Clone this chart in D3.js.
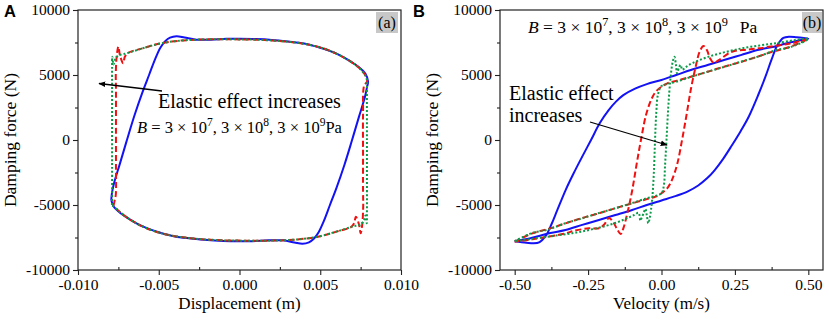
<!DOCTYPE html>
<html>
<head>
<meta charset="utf-8">
<script src="https://cdn.jsdelivr.net/npm/d3@7"></script>
<style>
  body { margin: 0; background: #fff; }
  svg text { font-family: "Liberation Serif", "Times New Roman", serif; }
</style>
</head>
<body>
<svg id="chart" width="829" height="324"></svg>
<script>
// force ticks (shared by both panels)
const forceTicks = [-10000, -5000, 0, 5000, 10000];
const forceMinor = [-7500, -2500, 2500, 7500];
const dispTicks = [-0.010, -0.005, 0.000, 0.005, 0.010];
const dispMinor = [-0.0075, -0.0025, 0.0025, 0.0075];
const velTicks = [-0.50, -0.25, 0.00, 0.25, 0.50];
const velMinor = [-0.375, -0.125, 0.125, 0.375];

// panel (a): displacement (m) vs damping force (N)
const dispBlue = [[-0.00794,-4620],[-0.0079,-4100],[-0.00777,-3330],[-0.0074,-1800],[-0.00697,0],[-0.0065,1900],[-0.006,3700],[-0.0056,5000],[-0.0052,6300],[-0.0049,7100],[-0.0046,7600],[-0.0043,7870],[-0.0039,7980],[-0.0034,7880],[-0.0027,7720],[-0.0018,7720],[-0.0008,7780],[0,7780],[0.001,7760],[0.002,7700],[0.003,7580],[0.004,7430],[0.005,7100],[0.006,6650],[0.0068,6100],[0.0074,5600],[0.0078,5100],[0.00796,4490],[0.0079,4100],[0.00777,3330],[0.0074,1800],[0.00697,0],[0.0065,-1900],[0.006,-3700],[0.0056,-5000],[0.0052,-6300],[0.0049,-7100],[0.0046,-7600],[0.0043,-7870],[0.0039,-7980],[0.0034,-7880],[0.0027,-7720],[0.0018,-7720],[0.0008,-7780],[0,-7780],[-0.001,-7760],[-0.002,-7700],[-0.003,-7580],[-0.004,-7430],[-0.005,-7100],[-0.006,-6650],[-0.0068,-6100],[-0.0074,-5600],[-0.0078,-5100],[-0.00794,-4620]];
const dispRed = [[-0.0078,-5050],[-0.00772,-4600],[-0.00766,-4200],[-0.00765,-2000],[-0.00765,1000],[-0.00765,4000],[-0.00766,5100],[-0.0076,6500],[-0.0075,7180],[-0.0074,6500],[-0.0072,5900],[-0.0071,6400],[-0.0069,6700],[-0.006,7050],[-0.005,7400],[-0.004,7600],[-0.003,7700],[-0.002,7740],[-0.001,7750],[0,7740],[0.001,7720],[0.002,7660],[0.003,7560],[0.004,7400],[0.005,7120],[0.006,6650],[0.0068,6100],[0.0074,5550],[0.0078,4950],[0.0079,4500],[0.00772,4200],[0.00765,2000],[0.00765,-1000],[0.00765,-4000],[0.00766,-5100],[0.0076,-6500],[0.0075,-7180],[0.0074,-6500],[0.0072,-5900],[0.0071,-6400],[0.0069,-6700],[0.006,-7050],[0.005,-7400],[0.004,-7600],[0.003,-7700],[0.002,-7740],[0.001,-7750],[0,-7740],[-0.001,-7720],[-0.002,-7660],[-0.003,-7560],[-0.004,-7400],[-0.005,-7120],[-0.006,-6650],[-0.0068,-6100],[-0.0074,-5550],[-0.0078,-5050]];
const dispGreen = [[-0.0079,-5000],[-0.00789,-4600],[-0.00789,-2000],[-0.00789,1000],[-0.00789,4000],[-0.00789,5600],[-0.00788,6400],[-0.0078,5800],[-0.0077,6200],[-0.0075,6500],[-0.0072,6600],[-0.0069,6700],[-0.006,7050],[-0.005,7400],[-0.004,7600],[-0.003,7700],[-0.002,7740],[-0.001,7750],[0,7740],[0.001,7720],[0.002,7660],[0.003,7560],[0.004,7400],[0.005,7120],[0.006,6650],[0.0068,6100],[0.0074,5550],[0.0078,4950],[0.0079,4500],[0.00789,4000],[0.00789,1000],[0.00789,-2000],[0.00789,-5600],[0.00788,-6400],[0.0078,-5800],[0.0077,-6200],[0.0075,-6500],[0.0072,-6600],[0.0069,-6700],[0.006,-7050],[0.005,-7400],[0.004,-7600],[0.003,-7700],[0.002,-7740],[0.001,-7750],[0,-7740],[-0.001,-7720],[-0.002,-7660],[-0.003,-7560],[-0.004,-7400],[-0.005,-7120],[-0.006,-6650],[-0.0068,-6100],[-0.0074,-5550],[-0.0079,-5000]];

// panel (b): velocity (m/s) vs damping force (N)
const velBlue = [[-0.5,-7780],[-0.463,-7640],[-0.42,-7400],[-0.383,-7180],[-0.327,-6920],[-0.27,-6530],[-0.213,-6150],[-0.157,-5770],[-0.1,-5380],[-0.05,-5000],[0,-4650],[0.05,-4300],[0.09,-3950],[0.125,-3500],[0.155,-2950],[0.18,-2350],[0.21,-1450],[0.24,-400],[0.27,700],[0.297,1790],[0.33,3500],[0.354,4870],[0.375,6200],[0.395,7300],[0.415,7850],[0.435,7950],[0.46,7900],[0.5,7780],[0.463,7640],[0.42,7400],[0.383,7180],[0.327,6920],[0.27,6530],[0.213,6150],[0.157,5770],[0.1,5380],[0.05,5000],[0,4620],[-0.05,4300],[-0.09,3950],[-0.13,3450],[-0.155,2950],[-0.18,2300],[-0.21,1300],[-0.24,0],[-0.27,-1280],[-0.3,-2600],[-0.3265,-3850],[-0.355,-5400],[-0.375,-6500],[-0.395,-7400],[-0.415,-7850],[-0.435,-7950],[-0.46,-7900],[-0.5,-7780]];
const velRed = [[-0.5,-7820],[-0.44,-7180],[-0.38,-6800],[-0.327,-6410],[-0.27,-6000],[-0.213,-5640],[-0.157,-5250],[-0.1,-4870],[-0.05,-4550],[-0.02,-4360],[0,-4100],[0.02,-3700],[0.035,-3100],[0.053,-1900],[0.07,0],[0.085,1900],[0.1,3900],[0.115,5500],[0.13,6800],[0.143,7230],[0.155,6900],[0.165,6300],[0.178,5950],[0.195,6150],[0.24,6790],[0.29,6950],[0.331,7050],[0.39,7250],[0.444,7440],[0.5,7800],[0.44,7180],[0.38,6800],[0.327,6410],[0.27,6000],[0.213,5640],[0.157,5250],[0.1,4870],[0.05,4550],[0.02,4360],[0,4100],[-0.02,3700],[-0.035,3100],[-0.053,1900],[-0.07,0],[-0.085,-1900],[-0.1,-3900],[-0.115,-5500],[-0.13,-6800],[-0.139,-7230],[-0.15,-6900],[-0.165,-6300],[-0.179,-6000],[-0.195,-6500],[-0.213,-6790],[-0.247,-6790],[-0.3,-7000],[-0.327,-7180],[-0.44,-7640],[-0.5,-7820]];
const velGreen = [[-0.5,-7780],[-0.44,-7150],[-0.388,-6900],[-0.327,-6400],[-0.274,-6050],[-0.213,-5620],[-0.157,-5250],[-0.1,-4850],[-0.05,-4480],[-0.02,-4300],[0,-4100],[0.008,-3500],[0.012,-2000],[0.017,0],[0.023,2500],[0.03,4600],[0.038,6000],[0.044,6400],[0.049,5800],[0.053,5130],[0.06,5600],[0.065,5770],[0.071,5400],[0.078,5500],[0.093,5770],[0.161,6410],[0.274,7050],[0.388,7440],[0.5,7780],[0.44,7150],[0.388,6900],[0.327,6400],[0.274,6050],[0.213,5620],[0.157,5250],[0.1,4850],[0.05,4480],[0.02,4300],[0,4150],[-0.012,3500],[-0.018,2000],[-0.022,0],[-0.026,-2500],[-0.032,-4600],[-0.04,-6000],[-0.045,-6400],[-0.05,-5800],[-0.055,-5300],[-0.062,-5700],[-0.068,-6000],[-0.072,-6200],[-0.078,-5600],[-0.093,-5770],[-0.161,-6410],[-0.274,-7050],[-0.388,-7440],[-0.5,-7780]];

const svg = d3.select("#chart");
svg.append("rect").attr("width", 829).attr("height", 324).attr("fill", "#fff");

svg.append("defs").append("marker")
    .attr("id", "arrow")
    .attr("viewBox", "0 -5 10 10")
    .attr("refX", 9)
    .attr("refY", 0)
    .attr("markerWidth", 7)
    .attr("markerHeight", 7)
    .attr("markerUnits", "userSpaceOnUse")
    .attr("orient", "auto")
    .append("path")
    .attr("fill", "#000")
    .attr("d", "M0,-4L10,0L0,4Z");

const fmtMinus = f => d => f(d).replace("\u2212", "-");

function drawPanel(cfg) {
    const x = d3.scaleLinear().domain(cfg.xDomain).range([cfg.left, cfg.right]);
    const y = d3.scaleLinear().domain([-10000, 10000]).range([cfg.bottom, cfg.top]);
    const g = svg.append("g");

    // frame
    g.append("rect")
        .attr("x", cfg.left).attr("y", cfg.top)
        .attr("width", cfg.right - cfg.left).attr("height", cfg.bottom - cfg.top)
        .attr("fill", "none").attr("stroke", "#222").attr("stroke-width", 1.2);

    // minor ticks
    g.append("g").attr("transform", `translate(0,${cfg.bottom})`)
        .call(d3.axisBottom(x).tickValues(cfg.xMinor).tickFormat("").tickSizeInner(-3).tickSizeOuter(0))
        .call(a => a.select(".domain").remove());
    g.append("g").attr("transform", `translate(${cfg.left},0)`)
        .call(d3.axisLeft(y).tickValues(forceMinor).tickFormat("").tickSizeInner(3).tickSizeOuter(0))
        .call(a => a.select(".domain").remove());

    // major axes
    const xa = g.append("g").attr("transform", `translate(0,${cfg.bottom})`)
        .call(d3.axisBottom(x).tickValues(cfg.xTicks).tickFormat(fmtMinus(d3.format(cfg.xFmt)))
            .tickSizeInner(5).tickSizeOuter(0).tickPadding(4));
    const ya = g.append("g").attr("transform", `translate(${cfg.left},0)`)
        .call(d3.axisLeft(y).tickValues(forceTicks).tickFormat(d => String(d))
            .tickSizeInner(5).tickSizeOuter(0).tickPadding(3));
    [xa, ya].forEach(a => {
        a.select(".domain").remove();
        a.selectAll("text").attr("font-size", 15.5).attr("fill", "#000")
            .style("font-family", "'Liberation Serif', serif");
    });
    g.selectAll(".tick line").attr("stroke", "#222").attr("stroke-width", 1.1);

    // curves
    const line = d3.line()
        .x(d => x(d[0]))
        .y(d => y(d[1]))
        .curve(d3.curveCatmullRom.alpha(0.5));
    const clipId = "clip" + cfg.name;
    svg.select("defs").append("clipPath").attr("id", clipId)
        .append("rect").attr("x", cfg.left).attr("y", cfg.top)
        .attr("width", cfg.right - cfg.left).attr("height", cfg.bottom - cfg.top);
    const cg = g.append("g").attr("clip-path", `url(#${clipId})`);
    cg.append("path").datum(cfg.blue).attr("d", line)
        .attr("fill", "none").attr("stroke", "#1212f5").attr("stroke-width", 2);
    cg.append("path").datum(cfg.red).attr("d", line)
        .attr("fill", "none").attr("stroke", "#f01010").attr("stroke-width", 2)
        .attr("stroke-dasharray", "6,3");
    cg.append("path").datum(cfg.green).attr("d", line)
        .attr("fill", "none").attr("stroke", "#0a9a48").attr("stroke-width", 2)
        .attr("stroke-dasharray", "2,2");

    // axis titles
    g.append("text")
        .attr("x", (cfg.left + cfg.right) / 2).attr("y", 309)
        .attr("text-anchor", "middle").attr("font-size", 17)
        .text(cfg.xTitle);
    g.append("text")
        .attr("transform", `translate(${cfg.left - 62},${(cfg.top + cfg.bottom) / 2}) rotate(-90)`)
        .attr("text-anchor", "middle").attr("font-size", 17.5)
        .text("Damping force (N)");

    // panel letter
    g.append("text")
        .attr("x", cfg.letterX).attr("y", 17)
        .attr("font-size", 16.5).attr("font-weight", "bold")
        .style("font-family", "'Liberation Sans', Arial, sans-serif")
        .text(cfg.letter);

    // (a)/(b) tag
    g.append("rect")
        .attr("x", cfg.tagX).attr("y", cfg.top + 2)
        .attr("width", cfg.tagW).attr("height", 21)
        .attr("fill", "#c8c8c8");
    g.append("text")
        .attr("x", cfg.tagX + cfg.tagW / 2).attr("y", cfg.top + 18)
        .attr("text-anchor", "middle").attr("font-size", 16)
        .text(cfg.tag);

    return {x, y, g};
}

const pA = drawPanel({
    name: "A", left: 78, right: 401, top: 10, bottom: 270,
    xDomain: [-0.010, 0.010], xTicks: dispTicks, xMinor: dispMinor, xFmt: ".3f",
    blue: dispBlue, red: dispRed, green: dispGreen,
    xTitle: "Displacement (m)", letter: "A", letterX: 4, tag: "(a)", tagX: 376, tagW: 22
});
const pB = drawPanel({
    name: "B", left: 500, right: 823, top: 10, bottom: 270,
    xDomain: [-0.55, 0.55], xTicks: velTicks, xMinor: velMinor, xFmt: ".2f",
    blue: velBlue, red: velRed, green: velGreen,
    xTitle: "Velocity (m/s)", letter: "B", letterX: 413, tag: "(b)", tagX: 802, tagW: 20
});

// math label: B = 3 × 10^7, 3 × 10^8, 3 × 10^9 Pa
function mathLabel(g, x, y, size, gap) {
    const up = size * 0.4;
    const t = g.append("text").attr("x", x).attr("y", y).attr("font-size", size);
    t.append("tspan").attr("font-style", "italic").text("B");
    t.append("tspan").text(" = 3 \u00d7 10");
    t.append("tspan").attr("dy", -up).attr("font-size", size * 0.7).text("7");
    t.append("tspan").attr("dy", up).text(", 3 \u00d7 10");
    t.append("tspan").attr("dy", -up).attr("font-size", size * 0.7).text("8");
    t.append("tspan").attr("dy", up).text(", 3 \u00d7 10");
    t.append("tspan").attr("dy", -up).attr("font-size", size * 0.7).text("9");
    t.append("tspan").attr("dy", up).attr("dx", gap).text("Pa");
}

// panel A annotations
pA.g.append("line")
    .attr("x1", 162).attr("y1", 91).attr("x2", 99).attr("y2", 83.5)
    .attr("stroke", "#000").attr("stroke-width", 1.3).attr("marker-end", "url(#arrow)");
pA.g.append("text").attr("x", 158).attr("y", 108).attr("font-size", 20)
    .text("Elastic effect increases");
mathLabel(pA.g, 137, 133, 16.5, 0);

// panel B annotations
mathLabel(pB.g, 528, 33, 17.5, 12);
pB.g.append("text").attr("x", 509).attr("y", 100).attr("font-size", 20).text("Elastic effect");
pB.g.append("text").attr("x", 509).attr("y", 122).attr("font-size", 20).text("increases");
pB.g.append("line")
    .attr("x1", 590).attr("y1", 122).attr("x2", 667).attr("y2", 145)
    .attr("stroke", "#000").attr("stroke-width", 1.3).attr("marker-end", "url(#arrow)");
</script>
</body>
</html>
